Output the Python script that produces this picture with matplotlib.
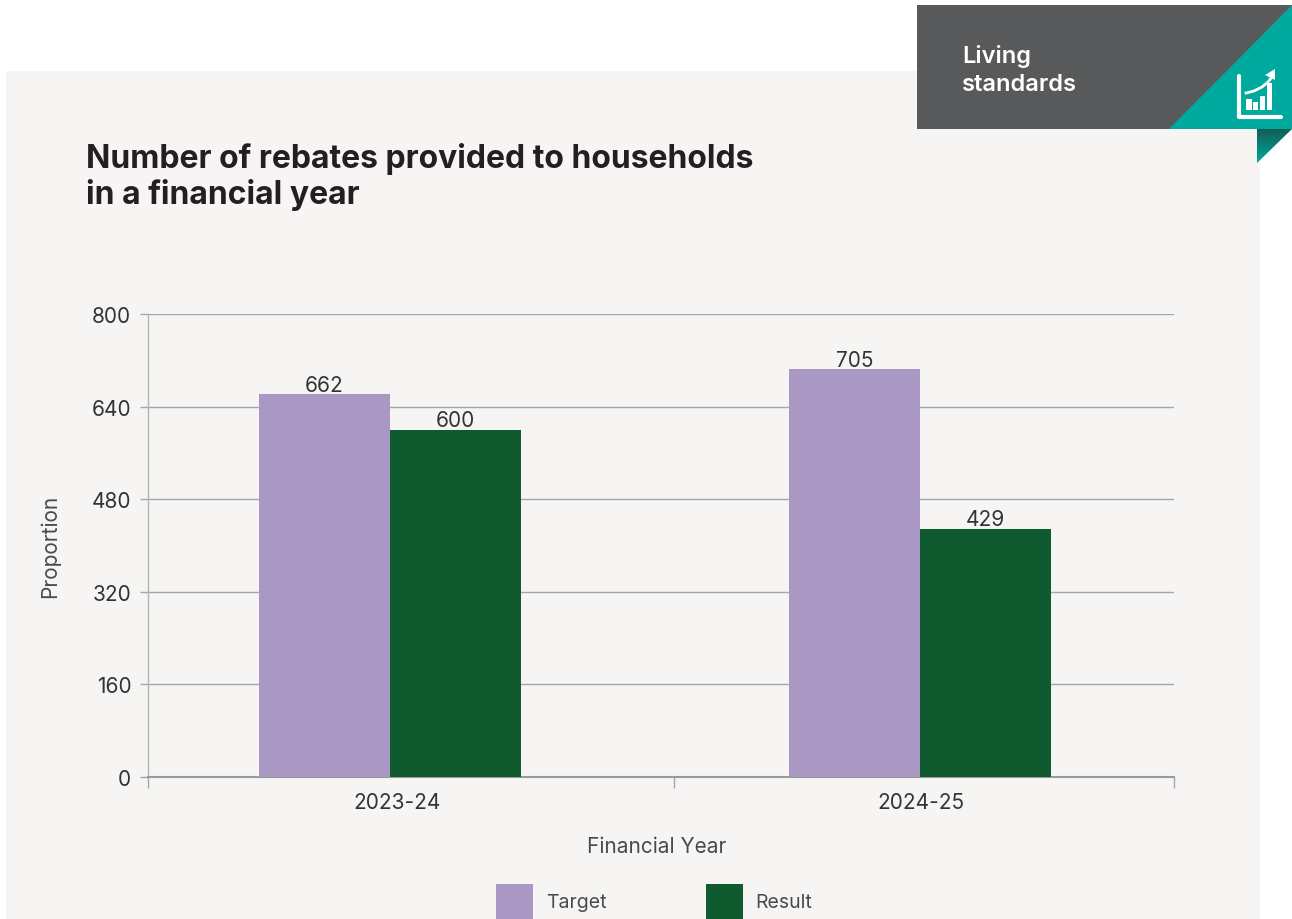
import numpy as np
import matplotlib
matplotlib.use("Agg")
import matplotlib.pyplot as plt
from matplotlib.patches import Rectangle, Polygon
from matplotlib.colors import LinearSegmentedColormap

years = ["2023-24", "2024-25"]
target = [662, 705]
result = [600, 429]
y_ticks = [0, 160, 320, 480, 640, 800]

W, H = 1292, 920
plt.rcParams["font.family"] = ["Inter", "DejaVu Sans"]

fig = plt.figure(figsize=(W / 100, H / 100), dpi=100, facecolor="white")

# page furniture goes on a full-size axes in pixel units
bg = fig.add_axes([0, 0, 1, 1], zorder=0)
bg.set_xlim(0, W)
bg.set_ylim(H, 0)
bg.axis("off")
bg.add_patch(Rectangle((6, 72), 1254, 848, color="#f6f5f3", lw=0))

ax = fig.add_axes([148 / W, 1 - 778 / H, (1174 - 148) / W, (778 - 315) / H], zorder=1)
ax.patch.set_alpha(0)

top = fig.add_axes([0, 0, 1, 1], zorder=2)
top.set_xlim(0, W)
top.set_ylim(H, 0)
top.axis("off")
top.patch.set_alpha(0)

# banner
top.add_patch(Rectangle((917, 6), 375, 124, color="#58595b", lw=0))
top.add_patch(Polygon([(1292, 6), (1292, 130), (1169, 130)], color="#00a99d", lw=0))
fold = Polygon([(1257, 130), (1292, 130), (1257, 164)], transform=top.transData, lw=0, fc="none")
top.add_patch(fold)
cmap = LinearSegmentedColormap.from_list("fold", ["#125e58", "#00a99d"])
im = top.imshow(np.linspace(0, 1, 64).reshape(-1, 1), extent=(1257, 1292, 164, 130),
                cmap=cmap, aspect="auto", zorder=1.5)
im.set_clip_path(fold)
top.set_xlim(0, W)
top.set_ylim(H, 0)
top.text(962, 56, "Living", fontsize=17, fontweight=600, color="white", va="center")
top.text(962, 85, "standards", fontsize=17, fontweight=600, color="white", va="center")

# chart icon
top.plot([1239, 1239, 1281], [77, 118, 118], color="white", lw=3, solid_capstyle="round",
         solid_joinstyle="round")
for x0, x1, y0 in [(1246, 1252, 100), (1253, 1258, 103), (1260, 1265, 97), (1267, 1272, 84)]:
    top.add_patch(Rectangle((x0, y0), x1 - x0, 111 - y0, color="white", lw=0))
arrow_x = np.array([1246, 1254, 1262, 1268, 1272])
arrow_y = np.array([94, 92, 88, 83, 78])
top.plot(arrow_x, arrow_y, color="white", lw=2)
top.add_patch(Polygon([(1275, 70), (1275, 81), (1265, 76)], color="white", lw=0))

# title
top.text(86, 168, "Number of rebates provided to households", fontsize=23, fontweight="bold",
         color="#231f20", va="baseline")
top.text(86, 204, "in a financial year", fontsize=23, fontweight="bold", color="#231f20", va="baseline")

# bars
x = np.arange(len(years))
bar_w = 0.248
ax.bar(x - bar_w / 2, target, bar_w, color="#aa98c4", zorder=3)
ax.bar(x + bar_w / 2, result, bar_w, color="#0f5a2f", zorder=3)
for i in range(len(years)):
    ax.annotate(str(target[i]), (x[i] - bar_w / 2, target[i]), xytext=(0, -0.5), textcoords="offset points",
                ha="center", va="bottom", fontsize=15, color="#333333", zorder=4)
    ax.annotate(str(result[i]), (x[i] + bar_w / 2, result[i]), xytext=(0, -0.5), textcoords="offset points",
                ha="center", va="bottom", fontsize=15, color="#333333", zorder=4)

ax.set_xlim((148 - 390) / 530, (1174 - 390) / 530)
ax.set_ylim(0, 800)
ax.set_yticks(y_ticks)
ax.tick_params(axis="y", length=6, width=1, color="#a6a6a6", labelsize=15, labelcolor="#333333", pad=6)
ax.grid(axis="y", color="#a6a6a6", lw=1, zorder=1)
ax.set_axisbelow(True)

# year labels sit a little off the bar groups, ticks mark the band edges
ax.set_xticks([(148 - 390) / 530, (674 - 390) / 530, (1174 - 390) / 530])
ax.set_xticklabels([])
ax.tick_params(axis="x", length=8, width=1, color="#a6a6a6")
top.text(397, 803, years[0], fontsize=15, color="#333333", ha="center", va="center")
top.text(921, 803, years[1], fontsize=15, color="#333333", ha="center", va="center")

for side in ["top", "right"]:
    ax.spines[side].set_visible(False)
ax.spines["left"].set_color("#b3b3b3")
ax.spines["left"].set_linewidth(1)
ax.spines["bottom"].set_color("#999999")
ax.spines["bottom"].set_linewidth(1.5)

top.text(657, 847, "Financial Year", fontsize=15, color="#4a4a4a", ha="center", va="center")
top.text(50, 546, "Proportion", fontsize=15, color="#4a4a4a", ha="center", va="center", rotation=90)

# legend
top.add_patch(Rectangle((496, 885), 37, 40, color="#aa98c4", lw=0))
top.add_patch(Rectangle((706, 885), 37, 40, color="#0f5a2f", lw=0))
top.text(546, 903, "Target", fontsize=14, color="#4a4a4a", va="center")
top.text(755, 903, "Result", fontsize=14, color="#4a4a4a", va="center")

fig.savefig("out.png", dpi=100)
